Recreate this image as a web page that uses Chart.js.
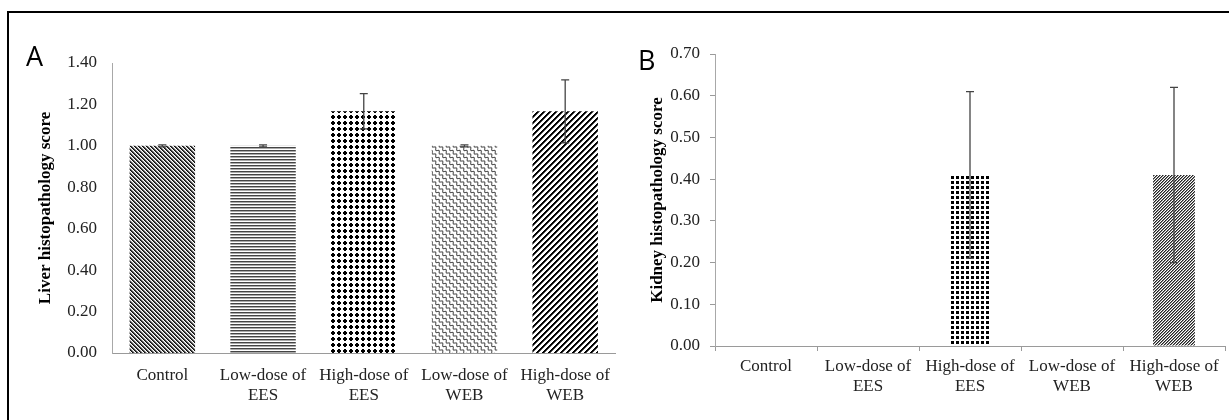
<!DOCTYPE html>
<html>
<head>
<meta charset="utf-8">
<script src="https://cdn.jsdelivr.net/npm/chart.js@4.4.1/dist/chart.umd.min.js"></script>
<style>
  html, body { margin:0; padding:0; background:#fff; }
  #wrap { position:relative; width:1229px; height:420px; overflow:hidden; background:#fff; }
  #frame { position:absolute; left:7px; top:11px; width:1300px; height:500px; border-top:2px solid #000; border-left:2px solid #000; }
  canvas { position:absolute; top:0; }
  #cA { left:0; }
  #cB { left:620px; }
  .lbl { position:absolute; font-family:"Open Sans", "Liberation Sans", sans-serif; font-size:27px; line-height:27px; color:#000; }
</style>
</head>
<body>
<div id="wrap">
  <div id="frame"></div>
  <canvas id="cA" width="622" height="420"></canvas>
  <canvas id="cB" width="609" height="420"></canvas>
  <div class="lbl" style="left:26px; top:42px;">A</div>
  <div class="lbl" style="left:638px; top:46px;">B</div>
</div>
<script>
// ---- data ----
const categories = [["Control"], ["Low-dose of", "EES"], ["High-dose of", "EES"], ["Low-dose of", "WEB"], ["High-dose of", "WEB"]];
const liverScores = [1.00, 1.00, 1.167, 1.00, 1.167];
const liverErrors = [0.005, 0.005, 0.085, 0.005, 0.152];
const kidneyScores = [0, 0, 0.41, 0, 0.41];
const kidneyErrors = [0, 0, 0.20, 0, 0.21];
const liverTitle = "Liver histopathology score";
const kidneyTitle = "Kidney histopathology score";

// ---- patterns ----
function pixelTile(w, h, f) {
  const c = document.createElement('canvas'); c.width = w; c.height = h;
  const g = c.getContext('2d');
  g.fillStyle = '#fff'; g.fillRect(0, 0, w, h);
  for (let y = 0; y < h; y++) for (let x = 0; x < w; x++) {
    const col = f(x, y); if (col) { g.fillStyle = col; g.fillRect(x, y, 1, 1); }
  }
  return g.createPattern(c, 'repeat');
}
function pathTile(w, h, draw) {
  const c = document.createElement('canvas'); c.width = w; c.height = h;
  const g = c.getContext('2d');
  g.fillStyle = '#fff'; g.fillRect(0, 0, w, h);
  draw(g);
  return g.createPattern(c, 'repeat');
}
const mod = (a, n) => ((a % n) + n) % n;
const patControl = pixelTile(4, 4, (x, y) => { const m = mod(x - y, 4); return m === 0 ? '#111' : (m === 1 ? '#444' : (m === 2 ? '#bbb' : null)); });
const patLowEES = pixelTile(1, 3, (x, y) => y === 0 ? '#444' : (y === 1 ? '#aaa' : null));
const patHighEES = pixelTile(6, 6, (x, y) => (Math.abs(x - 2.5) + Math.abs(y - 2.5) <= 2.6) ? '#000' : null);
const patLowWEB = pathTile(7, 7, g => {
  g.strokeStyle = '#555'; g.lineWidth = 1.1;
  for (let k = -2; k <= 2; k++) {
    g.beginPath();
    for (let t = -3; t <= 17; t += 0.5) {
      const a = 1.1 * Math.sin(2 * Math.PI * t / 3.5);
      const px = 7 * k + t + a * 0.707, py = t - a * 0.707;
      if (t === -3) g.moveTo(px, py); else g.lineTo(px, py);
    }
    g.stroke();
  }
});
const patHighWEB = pixelTile(6, 6, (x, y) => { const m = mod(x + y, 6); return m < 2 ? '#000' : (m === 2 ? '#555' : null); });
const patKHighEES = pixelTile(5, 5, (x, y) => (Math.abs(x - 2) <= 1 && Math.abs(y - 2) <= 1) || (Math.abs(x - 2) + Math.abs(y - 2) <= 1.5) ? '#000' : null);
const patKHighWEB = pixelTile(3, 3, (x, y) => { const m = mod(x + y, 3); return m === 0 ? '#222' : (m === 1 ? '#888' : null); });

// ---- error bar plugin ----
const errorBars = {
  id: 'errorBars',
  afterDatasetsDraw(chart, args, opts) {
    const ctx = chart.ctx, y = chart.scales.y;
    const meta = chart.getDatasetMeta(0);
    const vals = chart.data.datasets[0].data, errs = opts.errors;
    ctx.save();
    ctx.strokeStyle = '#444'; ctx.lineWidth = 1.3;
    meta.data.forEach((bar, i) => {
      const e = errs[i]; if (!e) return;
      const x = bar.x, yt = y.getPixelForValue(vals[i] + e), yb = y.getPixelForValue(vals[i] - e);
      ctx.beginPath();
      ctx.moveTo(x, yt); ctx.lineTo(x, yb);
      ctx.moveTo(x - 4, yt); ctx.lineTo(x + 4, yt);
      ctx.moveTo(x - 4, yb); ctx.lineTo(x + 4, yb);
      ctx.stroke();
    });
    ctx.restore();
  }
};

const tickFont = { family: '"Liberation Serif", "Times New Roman", serif', size: 17, lineHeight: 1.2 };
const titleFont = { family: '"Liberation Serif", "Times New Roman", serif', size: 17, weight: 'bold', lineHeight: 1.2 };

function makeChart(id, cfg) {
  return new Chart(document.getElementById(id), {
    type: 'bar',
    data: {
      labels: categories,
      datasets: [{ data: cfg.values, backgroundColor: cfg.patterns, borderWidth: 0,
        barPercentage: cfg.barPct, categoryPercentage: 1.0 }]
    },
    options: {
      responsive: false, animation: false, devicePixelRatio: 1,
      layout: { padding: { top: cfg.top, left: 0, right: cfg.right, bottom: 0 } },
      plugins: { legend: { display: false }, tooltip: { enabled: false }, errorBars: { errors: cfg.errors } },
      scales: {
        x: {
          grid: { display: cfg.xTicks, drawOnChartArea: false, drawTicks: cfg.xTicks, tickLength: 5, color: '#9a9a9a', offset: true },
          border: { display: true, color: '#9a9a9a', width: 1 },
          ticks: { font: tickFont, color: '#222', padding: cfg.xPad, maxRotation: 0, autoSkip: false },
          afterFit: s => { s.height = cfg.xH; }
        },
        y: {
          min: 0, max: cfg.max,
          grid: { display: cfg.yTicks, drawOnChartArea: false, drawTicks: cfg.yTicks, tickLength: 5, color: '#9a9a9a' },
          border: { display: true, color: '#a8a8a8', width: 1 },
          ticks: { stepSize: cfg.step, font: tickFont, color: '#222', padding: cfg.yPad, callback: v => Number(v).toFixed(2) },
          title: { display: true, text: cfg.title, font: titleFont, color: '#000', padding: { top: cfg.titlePad, bottom: 0 } },
          afterFit: s => { s.width = cfg.yW; }
        }
      }
    },
    plugins: [errorBars]
  });
}

makeChart('cA', {
  values: liverScores, errors: liverErrors,
  patterns: [patControl, patLowEES, patHighEES, patLowWEB, patHighWEB],
  barPct: 0.65, top: 63, right: 2, max: 1.4, step: 0.2, title: liverTitle,
  xTicks: false, yTicks: false, xPad: 12, yPad: 15, xH: 67, yW: 112, titlePad: 35
});
makeChart('cB', {
  values: kidneyScores, errors: kidneyErrors,
  patterns: ['#fff', '#fff', patKHighEES, '#fff', patKHighWEB],
  barPct: 0.41, top: 54, right: 4, max: 0.7, step: 0.1, title: kidneyTitle,
  xTicks: true, yTicks: true, xPad: 5, yPad: 10, xH: 74, yW: 95, titlePad: 27
});
</script>
</body>
</html>
